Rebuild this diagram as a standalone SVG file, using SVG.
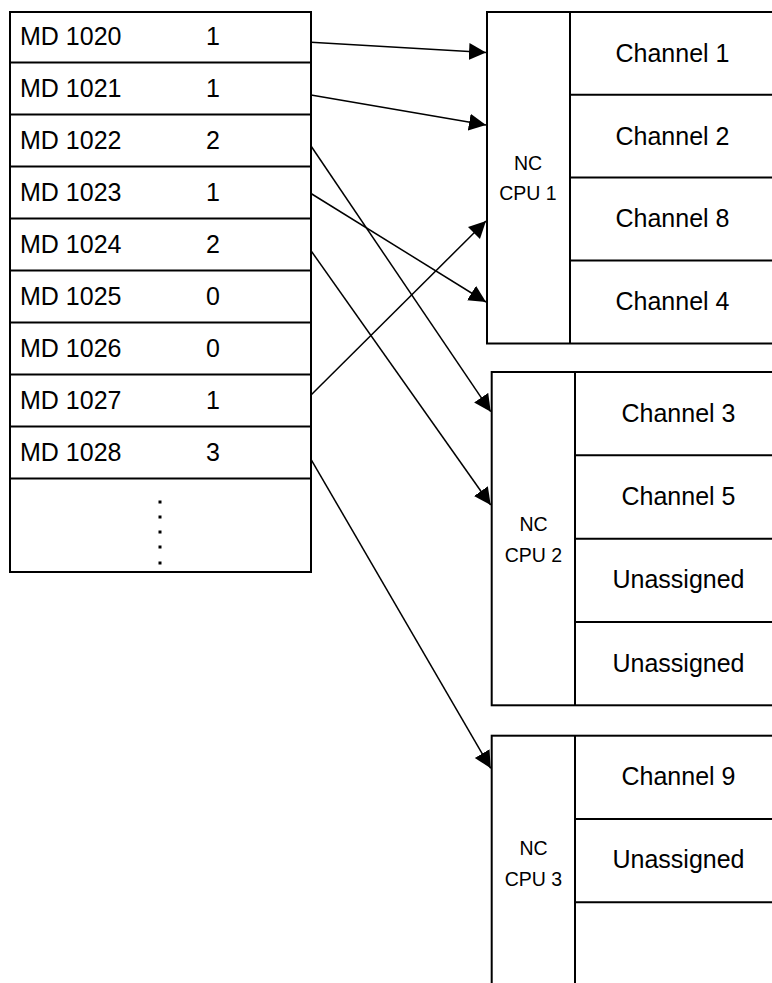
<svg xmlns="http://www.w3.org/2000/svg" width="772" height="983" viewBox="0 0 772 983">
<style>
.box{fill:none;stroke:#000;stroke-width:2}
.ln{stroke:#000;stroke-width:2}
.t{font-family:"Liberation Sans",Arial,sans-serif;font-size:25px;fill:#000}
.c{font-family:"Liberation Sans",Arial,sans-serif;font-size:25px;fill:#000;text-anchor:middle}
.s{font-family:"Liberation Sans",Arial,sans-serif;font-size:19.5px;fill:#000;text-anchor:middle}
.ar{stroke:#000;stroke-width:1.5;fill:none;marker-end:url(#ah)}
</style>
<defs>
<marker id="ah" markerUnits="userSpaceOnUse" markerWidth="18" markerHeight="18" refX="17" refY="8.5" orient="auto" viewBox="0 0 18 18">
<path d="M0,0 L17,8.5 L0,17 Z" fill="#000"/>
</marker>
</defs>
<rect width="772" height="983" fill="#fff"/>
<g id="md-table">
<rect class="box" x="10" y="12" width="301" height="560"/>
<line class="ln" x1="10" y1="62.5" x2="311" y2="62.5"/>
<line class="ln" x1="10" y1="114.5" x2="311" y2="114.5"/>
<line class="ln" x1="10" y1="166.5" x2="311" y2="166.5"/>
<line class="ln" x1="10" y1="218.5" x2="311" y2="218.5"/>
<line class="ln" x1="10" y1="270.5" x2="311" y2="270.5"/>
<line class="ln" x1="10" y1="322.5" x2="311" y2="322.5"/>
<line class="ln" x1="10" y1="374.5" x2="311" y2="374.5"/>
<line class="ln" x1="10" y1="426.5" x2="311" y2="426.5"/>
<line class="ln" x1="10" y1="478.5" x2="311" y2="478.5"/>
<text class="t" x="20" y="45">MD 1020</text><text class="t" x="206" y="45">1</text>
<text class="t" x="20" y="97">MD 1021</text><text class="t" x="206" y="97">1</text>
<text class="t" x="20" y="149">MD 1022</text><text class="t" x="206" y="149">2</text>
<text class="t" x="20" y="201">MD 1023</text><text class="t" x="206" y="201">1</text>
<text class="t" x="20" y="253">MD 1024</text><text class="t" x="206" y="253">2</text>
<text class="t" x="20" y="305">MD 1025</text><text class="t" x="206" y="305">0</text>
<text class="t" x="20" y="357">MD 1026</text><text class="t" x="206" y="357">0</text>
<text class="t" x="20" y="409">MD 1027</text><text class="t" x="206" y="409">1</text>
<text class="t" x="20" y="461">MD 1028</text><text class="t" x="206" y="461">3</text>
<g fill="#000">
<rect x="158.5" y="500.5" width="3" height="3"/>
<rect x="158.5" y="515.5" width="3" height="3"/>
<rect x="158.5" y="530.5" width="3" height="3"/>
<rect x="158.5" y="545.5" width="3" height="3"/>
<rect x="158.5" y="561.5" width="3" height="3"/>
</g>
</g>
<g id="cpu1">
<rect class="box" x="487" y="12" width="303" height="331.5"/>
<line class="ln" x1="570" y1="12" x2="570" y2="343.5"/>
<line class="ln" x1="570" y1="94.8" x2="790" y2="94.8"/>
<line class="ln" x1="570" y1="177.6" x2="790" y2="177.6"/>
<line class="ln" x1="570" y1="260.4" x2="790" y2="260.4"/>
<text class="s" x="528" y="170">NC</text>
<text class="s" x="528" y="200">CPU 1</text>
<text class="c" x="672.5" y="62">Channel 1</text>
<text class="c" x="672.5" y="144.5">Channel 2</text>
<text class="c" x="672.5" y="227">Channel 8</text>
<text class="c" x="672.5" y="309.5">Channel 4</text>
</g>
<g id="cpu2">
<rect class="box" x="491.7" y="372" width="300" height="333.3"/>
<line class="ln" x1="575" y1="372" x2="575" y2="705.3"/>
<line class="ln" x1="575" y1="455.3" x2="792" y2="455.3"/>
<line class="ln" x1="575" y1="538.7" x2="792" y2="538.7"/>
<line class="ln" x1="575" y1="622" x2="792" y2="622"/>
<text class="s" x="533.5" y="531">NC</text>
<text class="s" x="533.5" y="562">CPU 2</text>
<text class="c" x="678.5" y="421.7">Channel 3</text>
<text class="c" x="678.5" y="505">Channel 5</text>
<text class="c" x="678.5" y="588.3">Unassigned</text>
<text class="c" x="678.5" y="671.7">Unassigned</text>
</g>
<g id="cpu3">
<rect class="box" x="491.7" y="735.7" width="300" height="333.3"/>
<line class="ln" x1="575" y1="735.7" x2="575" y2="1069"/>
<line class="ln" x1="575" y1="819" x2="792" y2="819"/>
<line class="ln" x1="575" y1="902.3" x2="792" y2="902.3"/>
<line class="ln" x1="575" y1="985.6" x2="792" y2="985.6"/>
<text class="s" x="533.5" y="855">NC</text>
<text class="s" x="533.5" y="886">CPU 3</text>
<text class="c" x="678.5" y="785">Channel 9</text>
<text class="c" x="678.5" y="868">Unassigned</text>
</g>
<g id="connectors">
<line class="ar" x1="311" y1="42.3" x2="486" y2="52.5"/>
<line class="ar" x1="311" y1="95" x2="486" y2="125"/>
<line class="ar" x1="311" y1="146" x2="490.7" y2="411.7"/>
<line class="ar" x1="311" y1="193.5" x2="486" y2="302"/>
<line class="ar" x1="311" y1="250.7" x2="490.7" y2="505"/>
<line class="ar" x1="311" y1="395" x2="486" y2="221"/>
<line class="ar" x1="311" y1="459.3" x2="490.7" y2="768.3"/>
</g>
</svg>
